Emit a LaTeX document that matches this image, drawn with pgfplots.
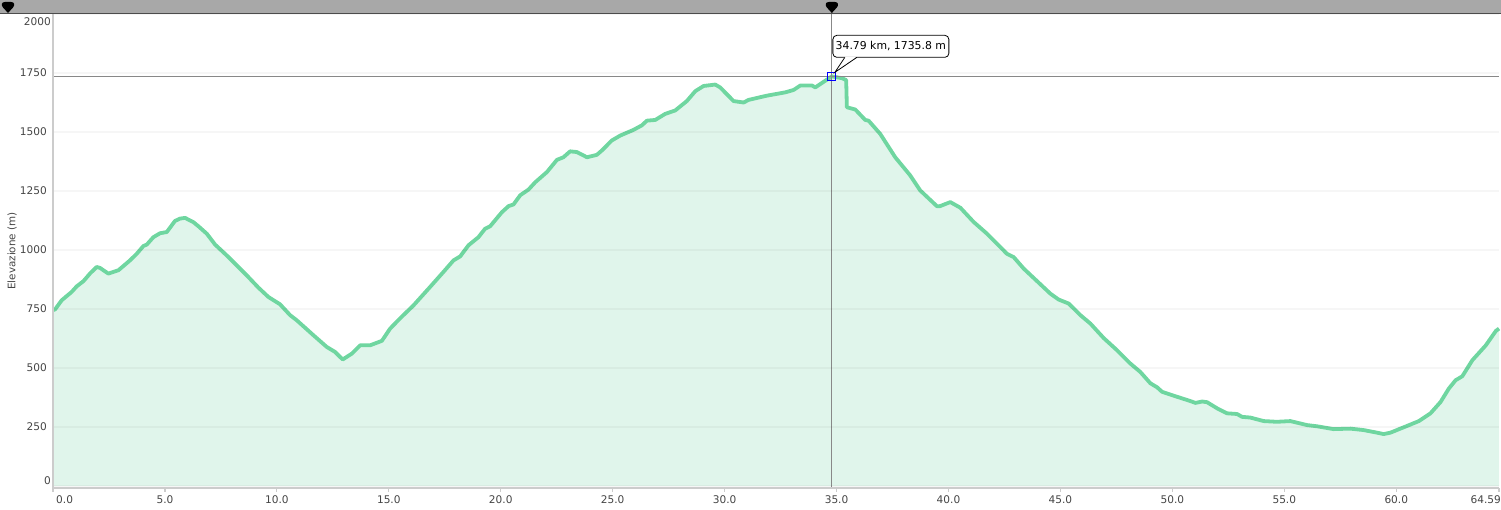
\documentclass[border=0pt]{standalone}
\usepackage{pgfplots}
\pgfplotsset{compat=1.18}
\usepackage{fontspec}
\setmainfont{DejaVu Sans}
\definecolor{lineG}{RGB}{111,214,160}
\definecolor{fillG}{RGB}{224,245,235}
\definecolor{barG}{RGB}{168,168,168}
\definecolor{txt}{RGB}{68,68,68}
\definecolor{axG}{RGB}{204,204,204}
\definecolor{cross}{RGB}{136,136,136}
\pgfplotstableread{
km m
0.00 745
0.09 748
0.39 787
0.83 822
1.06 846
1.36 868
1.65 900
1.95 928
2.10 924
2.47 900
2.92 914
3.44 956
3.74 984
4.04 1017
4.19 1023
4.48 1054
4.78 1071
5.08 1076
5.45 1123
5.67 1133
5.90 1136
6.27 1118
6.49 1101
6.87 1069
7.24 1023
7.76 977
8.06 949
8.65 893
9.17 841
9.62 801
10.14 770
10.59 724
10.89 702
11.63 639
12.23 589
12.60 568
12.94 536
13.35 561
13.72 596
14.16 596
14.69 615
15.06 667
15.50 710
16.10 765
16.85 844
17.44 907
17.89 956
18.19 973
18.56 1020
19.00 1054
19.30 1090
19.53 1101
20.05 1160
20.35 1186
20.57 1193
20.87 1232
21.24 1256
21.54 1287
22.06 1330
22.51 1382
22.80 1393
23.10 1418
23.40 1415
23.85 1393
24.29 1403
24.52 1422
24.96 1464
25.34 1485
25.93 1509
26.30 1528
26.53 1548
26.90 1551
27.35 1577
27.79 1591
28.31 1631
28.69 1673
29.06 1695
29.58 1701
29.80 1689
30.40 1631
30.85 1625
31.07 1636
31.89 1654
32.71 1668
33.08 1678
33.38 1697
33.90 1697
34.05 1689
34.35 1708
34.79 1735.8
35.24 1728
35.43 1720
35.46 1605
35.84 1595
36.28 1551
36.43 1548
36.95 1492
37.62 1393
38.29 1316
38.74 1252
39.49 1185
39.63 1186
40.08 1203
40.53 1179
41.12 1119
41.72 1069
42.61 984
42.91 970
43.36 921
44.55 815
44.92 790
45.37 773
45.89 724
46.34 688
46.93 627
47.53 575
48.12 519
48.57 483
49.02 435
49.32 418
49.54 399
50.21 378
50.80 360
51.03 352
51.33 358
51.55 355
52.00 329
52.44 308
52.89 305
53.11 293
53.48 290
54.08 275
54.67 272
55.27 275
56.02 258
56.46 253
57.20 241
57.95 243
58.54 237
59.14 226
59.44 220
59.74 226
60.34 249
61.01 275
61.53 308
61.98 356
62.35 413
62.65 448
62.95 465
63.40 533
64.00 596
64.45 657
64.59 667
}\profile
\begin{document}
\begin{tikzpicture}
\begin{axis}[name=ax,
  scale only axis, width=1446bp, height=474bp,
  xmin=0, xmax=64.59, ymin=-8.5, ymax=2000,
  axis on top, clip=false,
  axis x line*=bottom, axis y line*=left,
  axis line style={-, draw=axG, line width=2bp},
  xtick={0,5,10,15,20,25,30,35,40,45,50,55,60,64.59},
  xticklabels={,5.0,10.0,15.0,20.0,25.0,30.0,35.0,40.0,45.0,50.0,55.0,60.0,},
  ytick={0,250,500,750,1000,1250,1500,1750,2000},
  yticklabels={,250,500,750,1000,1250,1500,1750,},
  tick align=outside, major tick length=4bp,
  xtick style={draw=axG, line width=1.2bp},
  ytick style={draw=none},
  ymajorgrids, grid style={draw=black, opacity=0.035, line width=1.2bp},
  tick label style={font=\fontsize{10.6}{12}\selectfont, text=txt},
  xticklabel style={inner sep=0pt, anchor=north, yshift=-3bp},
  yticklabel style={inner sep=0pt, anchor=east, xshift=-2bp},
]
\addplot[draw=none, fill=fillG] table[x=km, y=m] {\profile} \closedcycle;
\addplot[draw=lineG, line width=3.8bp, line join=round] table[x=km, y=m] {\profile};
% crosshair
\draw[cross, line width=1bp] (axis cs:34.79,-8.5) -- (axis cs:34.79,2000);
\draw[cross, line width=1bp] (axis cs:0,1735.8) -- (axis cs:64.59,1735.8);
\draw[blue, line width=1bp] ([xshift=-4bp,yshift=-4bp]axis cs:34.79,1735.8) rectangle ([xshift=4bp,yshift=4bp]axis cs:34.79,1735.8);
% tooltip
\fill[white] ([xshift=1bp,yshift=19bp]axis cs:34.79,1735.8) rectangle ([xshift=117bp,yshift=41bp]axis cs:34.79,1735.8);
\draw[black, line width=0.8bp, rounded corners=4bp] ([xshift=1bp,yshift=19bp]axis cs:34.79,1735.8) rectangle ([xshift=117bp,yshift=41bp]axis cs:34.79,1735.8);
\fill[white] ([xshift=4bp,yshift=4.5bp]axis cs:34.79,1735.8) -- ([xshift=13bp,yshift=19.6bp]axis cs:34.79,1735.8) -- ([xshift=25bp,yshift=19.6bp]axis cs:34.79,1735.8) -- cycle;
\draw[black, line width=0.8bp] ([xshift=13bp,yshift=19bp]axis cs:34.79,1735.8) -- ([xshift=3bp,yshift=4bp]axis cs:34.79,1735.8) -- ([xshift=25bp,yshift=19bp]axis cs:34.79,1735.8);
\node[font=\fontsize{10.9}{13}\selectfont, text=black, inner sep=0pt] at ([xshift=59bp,yshift=30bp]axis cs:34.79,1735.8) {34.79 km, 1735.8 m};
% end tick labels
\node[font=\fontsize{10.6}{12}\selectfont, text=txt, inner sep=0pt, anchor=north west] at ([xshift=3bp,yshift=-7bp]axis cs:0,-8.5) {0.0};
\node[font=\fontsize{10.6}{12}\selectfont, text=txt, inner sep=0pt, anchor=north east] at ([xshift=2bp,yshift=-7bp]axis cs:64.59,-8.5) {64.59};
\node[font=\fontsize{10.6}{12}\selectfont, text=txt, inner sep=0pt, anchor=north east] at ([xshift=-2bp,yshift=-3bp]axis cs:0,2000) {2000};
\node[font=\fontsize{10.6}{12}\selectfont, text=txt, inner sep=0pt, anchor=base east] at ([xshift=-2bp,yshift=1bp]axis cs:0,0) {0};
\end{axis}
% top bar
\fill[barG] ([xshift=-53bp]ax.north west) rectangle ([xshift=2bp,yshift=14bp]ax.north east);
\draw[black!70, line width=1.3bp] ([xshift=-53bp,yshift=0.7bp]ax.north west) -- ([xshift=2bp,yshift=0.7bp]ax.north east);
\begin{axis}[scale only axis, width=1446bp, height=474bp,
  xmin=0, xmax=64.59, ymin=-8.5, ymax=2000, hide axis, clip=false]
\fill[black] ([yshift=1bp]axis cs:34.79,2000) -- ([xshift=-5bp,yshift=6.5bp]axis cs:34.79,2000) .. controls ([xshift=-7bp,yshift=9bp]axis cs:34.79,2000) and ([xshift=-6.5bp,yshift=12bp]axis cs:34.79,2000) .. ([xshift=-3bp,yshift=12bp]axis cs:34.79,2000) -- ([xshift=3bp,yshift=12bp]axis cs:34.79,2000) .. controls ([xshift=6.5bp,yshift=12bp]axis cs:34.79,2000) and ([xshift=7bp,yshift=9bp]axis cs:34.79,2000) .. ([xshift=5bp,yshift=6.5bp]axis cs:34.79,2000) -- cycle;
\fill[black] ([yshift=1bp]axis cs:-2.01,2000) -- ([xshift=-5bp,yshift=6.5bp]axis cs:-2.01,2000) .. controls ([xshift=-7bp,yshift=9bp]axis cs:-2.01,2000) and ([xshift=-6.5bp,yshift=12bp]axis cs:-2.01,2000) .. ([xshift=-3bp,yshift=12bp]axis cs:-2.01,2000) -- ([xshift=3bp,yshift=12bp]axis cs:-2.01,2000) .. controls ([xshift=6.5bp,yshift=12bp]axis cs:-2.01,2000) and ([xshift=7bp,yshift=9bp]axis cs:-2.01,2000) .. ([xshift=5bp,yshift=6.5bp]axis cs:-2.01,2000) -- cycle;
\end{axis}
\node[rotate=90, font=\fontsize{10.4}{12}\selectfont, text=txt, inner sep=0pt] at ([xshift=-41bp]ax.west) {Elevazione (m)};
\pgfresetboundingbox
\useasboundingbox ([xshift=-53bp,yshift=-22bp]ax.south west) rectangle ([xshift=2bp,yshift=14bp]ax.north east);
\end{tikzpicture}
\end{document}
